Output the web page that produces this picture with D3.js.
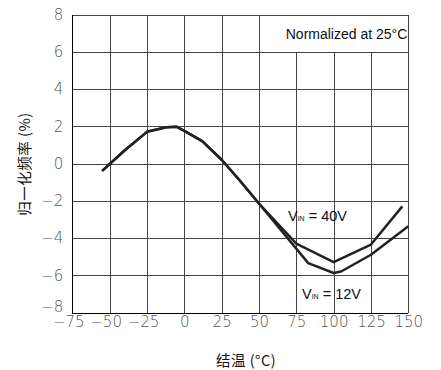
<!DOCTYPE html>
<html>
<head>
<meta charset="utf-8">
<script src="https://cdn.jsdelivr.net/npm/d3@7"></script>
<style>
  body { margin: 0; background: #fff; }
  svg { display: block; }
</style>
</head>
<body>
<div id="chart"></div>
<script>
const xTicks = [-75, -50, -25, 0, 25, 50, 75, 100, 125, 150];
const yTicks = [-8, -6, -4, -2, 0, 2, 4, 6, 8];

// junction temperature (°C) vs normalized frequency change (%)
const temp12 = [-55, -40, -25, -12, -5, 0, 12, 25, 37, 50, 83, 100, 105, 125, 150];
const freq12 = [-0.4, 0.7, 1.7, 1.95, 1.97, 1.75, 1.2, 0.2, -0.9, -2.15, -5.35, -5.88, -5.8, -4.9, -3.37];
const temp40 = [-55, -40, -25, -12, -5, 0, 12, 25, 37, 50, 75, 100, 125, 146];
const freq40 = [-0.4, 0.7, 1.7, 1.95, 1.97, 1.75, 1.2, 0.2, -0.9, -2.15, -4.3, -5.3, -4.35, -2.3];

const labels = [
  { name: '40V', x: 288, y: 221 },
  { name: '12V', x: 302, y: 299 }
];

const width = 441, height = 370;
const svg = d3.select('#chart').append('svg').attr('width', width).attr('height', height);

const xScale = d3.scaleLinear().domain([-75, 150]).range([72.3, 408.3]);
const yScale = d3.scaleLinear().domain([-8, 8]).range([312.5, 14.5]);

const tickFont = "'DejaVu Sans', sans-serif";
const fmt = d => (d < 0 ? '\u2212' + Math.abs(d) : String(d));

// grid
const grid = svg.append('g').attr('shape-rendering', 'crispEdges');
grid.selectAll('line.xgrid')
  .data(xTicks)
  .enter()
  .append('line')
  .attr('x1', d => Math.round(xScale(d)) + 0.5)
  .attr('x2', d => Math.round(xScale(d)) + 0.5)
  .attr('y1', yScale(8))
  .attr('y2', yScale(-8))
  .style('stroke', '#444');
grid.selectAll('line.ygrid')
  .data(yTicks)
  .enter()
  .append('line')
  .attr('x1', xScale(-75))
  .attr('x2', xScale(150))
  .attr('y1', d => Math.round(yScale(d)) + 0.5)
  .attr('y2', d => Math.round(yScale(d)) + 0.5)
  .style('stroke', '#444');

// note box covering the top-right grid cells
svg.append('rect')
  .attr('x', Math.round(xScale(50)) + 0.5)
  .attr('y', Math.round(yScale(8)) + 0.5)
  .attr('width', Math.round(xScale(150)) - Math.round(xScale(50)))
  .attr('height', Math.round(yScale(6)) - Math.round(yScale(8)))
  .attr('shape-rendering', 'crispEdges')
  .style('fill', '#fff')
  .style('stroke', '#444');

svg.append('text')
  .attr('x', xScale(150) - 1)
  .attr('y', 39)
  .attr('text-anchor', 'end')
  .style('font-family', "'Liberation Sans', Arial, sans-serif")
  .style('font-size', '14px')
  .style('fill', '#111')
  .text('Normalized at 25\u00B0C');

// axes lines (left, bottom) darker
svg.append('line')
  .attr('x1', Math.round(xScale(-75)) + 0.5).attr('x2', Math.round(xScale(-75)) + 0.5)
  .attr('y1', yScale(8)).attr('y2', yScale(-8))
  .attr('shape-rendering', 'crispEdges')
  .style('stroke', '#000');
svg.append('line')
  .attr('x1', xScale(-75)).attr('x2', xScale(150))
  .attr('y1', Math.round(yScale(-8)) + 0.5).attr('y2', Math.round(yScale(-8)) + 0.5)
  .attr('shape-rendering', 'crispEdges')
  .style('stroke', '#000');

// tick labels through axes
const xAxis = svg.append('g')
  .attr('transform', 'translate(0,' + yScale(-8) + ')')
  .call(d3.axisBottom(xScale).tickValues(xTicks).tickFormat(fmt).tickSize(0).tickPadding(4));
const yAxis = svg.append('g')
  .attr('transform', 'translate(' + xScale(-75) + ',0)')
  .call(d3.axisLeft(yScale).tickValues(yTicks).tickFormat(fmt).tickSize(0).tickPadding(9));
[xAxis, yAxis].forEach(a => {
  a.select('.domain').remove();
  a.selectAll('text')
    .style('font-family', tickFont)
    .style('font-size', '15px')
    .style('font-weight', '200')
    .style('fill', '#555');
});
// negative x labels: digits sit on the tick, minus hangs left
xAxis.selectAll('text').filter(d => d < 0).attr('dx', -4);
// lowest y label lifted clear of the x labels
yAxis.selectAll('text').filter(d => d === -8).attr('dy', '-0.05em');

// curves
const line = d3.line().x(d => xScale(d[0])).y(d => yScale(d[1]));
const series = [d3.zip(temp40, freq40), d3.zip(temp12, freq12)];
svg.selectAll('path.curve')
  .data(series)
  .enter()
  .append('path')
  .attr('class', 'curve')
  .attr('d', line)
  .style('fill', 'none')
  .style('stroke', '#222')
  .style('stroke-width', 2.5)
  .style('stroke-linejoin', 'round');

// curve labels
labels.forEach(l => {
  const t = svg.append('text')
    .attr('x', l.x)
    .attr('y', l.y)
    .style('font-family', "'Liberation Sans', Arial, sans-serif")
    .style('font-size', '14.5px')
    .style('fill', '#111');
  t.append('tspan').text('V');
  t.append('tspan').style('font-size', '7px').text('IN');
  t.append('tspan').text(' = ' + l.name);
});

// axis titles
svg.append('text')
  .attr('transform', 'translate(30,164) rotate(-90)')
  .attr('text-anchor', 'middle')
  .style('font-family', "'Noto Sans CJK SC', sans-serif")
  .style('font-size', '14.5px')
  .style('letter-spacing', '0.5px')
  .style('fill', '#111')
  .text('归一化频率 (%)');

svg.append('text')
  .attr('x', 246)
  .attr('y', 366)
  .attr('text-anchor', 'middle')
  .style('font-family', "'Noto Sans CJK SC', sans-serif")
  .style('font-size', '14.5px')
  .style('letter-spacing', '0.5px')
  .style('fill', '#111')
  .text('结温 (°C)');
</script>
</body>
</html>
